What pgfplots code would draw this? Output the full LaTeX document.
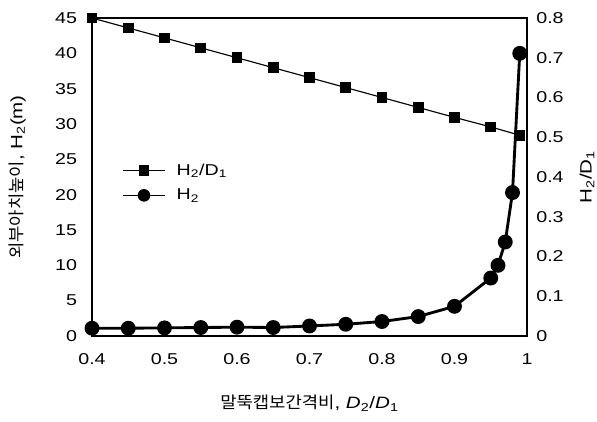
\documentclass[border=0pt]{standalone}
\usepackage{fontspec}
\setmainfont[FakeStretch=1.25]{Liberation Sans}
\newfontfamily\kr[FakeStretch=1.08]{Noto Sans CJK KR}
\usepackage{pgfplots}
\pgfplotsset{compat=1.18}
\begin{document}
\begin{tikzpicture}
\useasboundingbox (0,0) rectangle (417.9pt,294.7pt);
\pgfplotsset{base/.style={scale only axis, width=304.5pt, height=222.6pt,
  at={(64.4pt,59.5pt)}, anchor=south west, xmin=0.4, xmax=1,
  /pgf/number format/assume math mode=true,
  tick style={draw=none},
  ticklabel style={font=\fontsize{11}{13}\selectfont},
  axis line style={line width=0.9pt},
  label style={font=\fontsize{11.5}{13}\selectfont}}}
\begin{axis}[base, ymin=0, ymax=45,
  ytick={0,5,10,15,20,25,30,35,40,45},
  xtick={0.4,0.5,0.6,0.7,0.8,0.9,1},
  xtick pos=bottom, ytick pos=left,
  xticklabel style={yshift=-9pt},
  yticklabel style={xshift=-7pt},
  xlabel={{\kr 말뚝캡보간격비}, \textit{D}\textsubscript{2}/\textit{D}\textsubscript{1}},
  xlabel style={at={(axis description cs:0.5,-0.211)}, anchor=center},
  ylabel={{\kr 외부아치높이}, H\textsubscript{2}(m)},
  ylabel style={at={(axis description cs:-0.172,0.5)}, anchor=center},
]
\addplot[black, line width=2pt, mark=*, mark size=4.2pt] coordinates {
(0.4,1.1) (0.45,1.1) (0.5,1.15) (0.55,1.2) (0.6,1.25) (0.65,1.2) (0.7,1.42)
(0.75,1.66) (0.8,2.05) (0.85,2.75) (0.9,4.2) (0.95,8.2) (0.96,10.0)
(0.97,13.3) (0.98,20.3) (0.99,40.0)};
\end{axis}
\begin{axis}[base, ymin=0, ymax=0.8,
  ytick={0,0.1,0.2,0.3,0.4,0.5,0.6,0.7,0.8},
  axis x line=none, axis y line*=right,
  yticklabel style={xshift=3pt},
  ylabel={H\textsubscript{2}/D\textsubscript{1}},
  ylabel style={at={(axis description cs:1.138,0.5)}, anchor=center},
  legend style={draw=none, fill=none, at={(axis description cs:0.06,0.56)}, anchor=north west,
    font=\fontsize{11}{12}\selectfont, row sep=4pt},
  legend cell align=left,
  legend image code/.code={\draw[#1] plot coordinates {(0pt,0pt) (14.5pt,0pt) (29pt,0pt)};},
]
\addplot[black, line width=0.8pt, mark=square*, mark size=3.3pt, forget plot] coordinates {
(0.4,0.8) (0.45,0.775) (0.5,0.75) (0.55,0.725) (0.6,0.7) (0.65,0.675) (0.7,0.65)
(0.75,0.625) (0.8,0.6) (0.85,0.575) (0.9,0.55) (0.95,0.526) (0.99,0.505)};
\addlegendimage{black, line width=0.8pt, mark=square*, mark size=3.3pt, mark repeat=2, mark phase=2}
\addlegendentry{\hspace{6pt}H\textsubscript{2}/D\textsubscript{1}}
\addlegendimage{black, line width=0.8pt, mark=*, mark size=4pt, mark repeat=2, mark phase=2}
\addlegendentry{\hspace{6pt}H\textsubscript{2}}
\end{axis}
\end{tikzpicture}
\end{document}
